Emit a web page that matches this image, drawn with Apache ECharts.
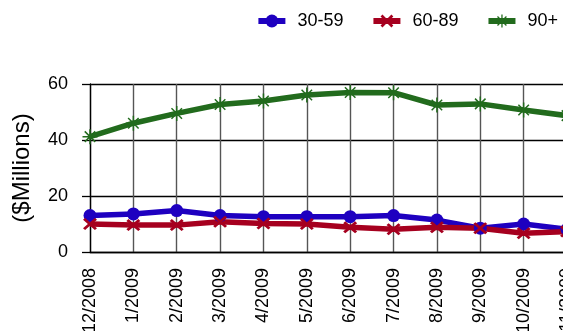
<!DOCTYPE html>
<html>
<head>
<meta charset="utf-8">
<script src="https://cdn.jsdelivr.net/npm/echarts@6/dist/echarts.min.js"></script>
<style>
  html, body { margin: 0; padding: 0; background: #fff; }
  #chart { width: 563px; height: 331px; }
</style>
</head>
<body>
<div id="chart"></div>
<script>
// Monthly balances by delinquency bucket, in $ millions
const months = ['12/2008', '1/2009', '2/2009', '3/2009', '4/2009', '5/2009',
                '6/2009', '7/2009', '8/2009', '9/2009', '10/2009', '11/2009'];
const days30to59 = [13.0, 13.6, 14.8, 13.0, 12.6, 12.6, 12.6, 13.0, 11.4, 8.5, 10.0, 8.1];
const days60to89 = [10.0, 9.6, 9.6, 10.8, 10.2, 10.0, 8.8, 8.1, 8.8, 8.5, 6.7, 7.3];
const days90plus = [41.2, 46.0, 49.5, 52.7, 53.9, 56.1, 57.0, 56.9, 52.5, 52.9, 50.7, 48.7];
const yTicks = { min: 0, max: 60, step: 20 };

// Marker shapes: a diagonal cross and an eight-armed asterisk
const crossPath = 'path://M3,0 L10,7 L17,0 L20,3 L13,10 L20,17 L17,20 L10,13 L3,20 L0,17 L7,10 L0,3 Z';
const asteriskPath = 'path://M9,0 L11,0 L11,20 L9,20 Z M0,9 L20,9 L20,11 L0,11 Z ' +
  'M2.3,3.7 L3.7,2.3 L17.7,16.3 L16.3,17.7 Z M16.3,2.3 L17.7,3.7 L3.7,17.7 L2.3,16.3 Z';

const font = 'Liberation Sans, Arial, sans-serif';

function lineSeries(name, data, color, symbol, size) {
  return {
    name: name,
    type: 'line',
    data: data,
    symbol: symbol,
    symbolSize: size,
    showAllSymbol: true,
    lineStyle: { color: color, width: 5.5 },
    itemStyle: { color: color, borderWidth: 0 },
    emphasis: { disabled: true },
    animation: false
  };
}

const chart = echarts.init(document.getElementById('chart'), null, { renderer: 'canvas' });
chart.setOption({
  backgroundColor: '#ffffff',
  textStyle: { fontFamily: font, color: '#000' },
  legend: {
    right: 0,
    top: 7,
    itemWidth: 27,
    itemHeight: 16,
    itemGap: 27,
    lineStyle: { width: 6 },
    textStyle: { fontFamily: font, fontSize: 18, color: '#000', padding: [0, 0, 0, 7] },
    data: ['30-59', '60-89', '90+']
  },
  grid: {
    left: 90, right: -4, top: 84, bottom: 79,
    containLabel: false,
    outerBoundsMode: 'none'
  },
  xAxis: {
    type: 'category',
    data: months,
    boundaryGap: false,
    axisLine: { show: true, lineStyle: { color: '#000', width: 1.3 } },
    axisTick: { show: false },
    axisLabel: {
      rotate: 90, margin: 16, fontSize: 18, fontFamily: font, color: '#000', interval: 0
    },
    splitLine: { show: true, lineStyle: { color: '#555', width: 1.4 } }
  },
  yAxis: {
    type: 'value',
    min: yTicks.min,
    max: yTicks.max,
    interval: yTicks.step,
    name: '($Millions)',
    nameLocation: 'middle',
    nameGap: 56,
    nameRotate: 90,
    nameTextStyle: { fontFamily: font, fontSize: 24, color: '#000' },
    axisLine: { show: true, lineStyle: { color: '#000', width: 1.3 } },
    axisTick: { show: true, length: 8, lineStyle: { color: '#000', width: 1.3 } },
    axisLabel: { margin: 22, fontSize: 18, fontFamily: font, color: '#000' },
    splitLine: { show: true, lineStyle: { color: '#000', width: 1.3 } }
  },
  series: [
    lineSeries('30-59', days30to59, '#1e00c0', 'circle', 13),
    lineSeries('60-89', days60to89, '#a6001f', crossPath, [14, 12]),
    lineSeries('90+', days90plus, '#226b1d', asteriskPath, 15)
  ]
});
</script>
</body>
</html>
